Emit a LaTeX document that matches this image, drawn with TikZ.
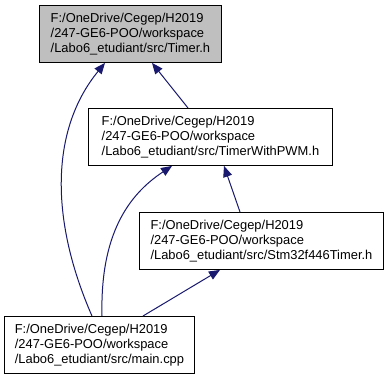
\documentclass[tikz,border=0pt]{standalone}
\usepackage{fontspec}
\setmainfont{Liberation Sans}
\usetikzlibrary{arrows.meta}
\definecolor{edgeblue}{HTML}{191970}
\definecolor{curfill}{HTML}{BFBFBF}
\tikzset{
  filebox/.style={draw=black, line width=0.9pt, fill=white, anchor=north west,
    align=left, inner sep=0pt, minimum height=57pt,
    font=\fontsize{12.9pt}{15pt}\selectfont},
  curbox/.style={filebox, fill=curfill},
  dep/.style={draw=edgeblue, line width=1pt,
    -{Triangle[length=11pt,width=9pt]}}
}
\begin{document}
\begin{tikzpicture}[x=1pt,y=-1pt]
  \useasboundingbox[fill=white] (0,0) rectangle (390,379);
  % header files and the source that includes them
  \node[curbox, minimum width=182pt] (timer) at (39,5)
    {F:/OneDrive/Cegep/H2019\\/247-GE6-POO/workspace\\/Labo6\_etudiant/src/Timer.h};
  \node[filebox, minimum width=244pt] (pwm) at (88,108)
    {F:/OneDrive/Cegep/H2019\\/247-GE6-POO/workspace\\/Labo6\_etudiant/src/TimerWithPWM.h};
  \node[filebox, minimum width=244pt] (stm) at (139,212)
    {F:/OneDrive/Cegep/H2019\\/247-GE6-POO/workspace\\/Labo6\_etudiant/src/Stm32f446Timer.h};
  \node[filebox, minimum width=190pt] (main) at (4,316)
    {F:/OneDrive/Cegep/H2019\\/247-GE6-POO/workspace\\/Labo6\_etudiant/src/main.cpp};
  % include dependencies
  \coordinate (mainA) at (main.north west -| 92,0);
  \coordinate (mainB) at (main.north west -| 102,0);
  \coordinate (mainC) at (main.north west -| 143,0);
  \draw[dep] (mainA) .. controls (50,220) and (50,130) .. (timer.south west -| 105,0);
  \draw[dep] (pwm.north west -| 188,0) -- (timer.south west -| 152,0);
  \draw[dep] (mainB) .. controls (100,235) and (128,195) .. (pwm.south west -| 172,0);
  \draw[dep] (stm.north west -| 240,0) -- (pwm.south west -| 224,0);
  \draw[dep] (mainC) -- (stm.south west -| 220,0);
\end{tikzpicture}
\end{document}
